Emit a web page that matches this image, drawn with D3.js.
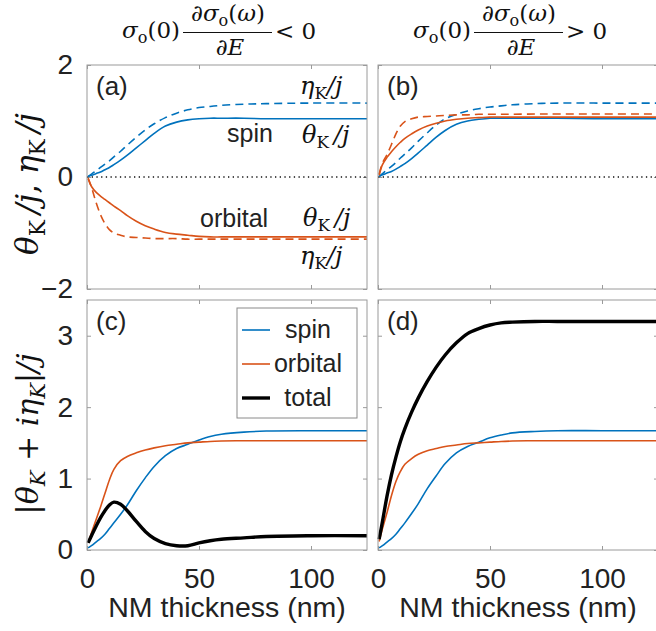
<!DOCTYPE html>
<html>
<head>
<meta charset="utf-8">
<script src="https://cdn.jsdelivr.net/npm/d3@7"></script>
<style>
  body { margin: 0; background: #fff; }
  svg { display: block; }
</style>
</head>
<body>
<svg id="chart"></svg>
<script>
// NM thickness samples (nm)
const thickness = [0.5, 2, 4, 6, 8, 10, 12, 15, 18, 22, 26, 30, 35, 40, 45, 50, 55, 60, 70, 80, 100, 125];

// (a) sigma_o(0) dsigma/dE < 0
const aSpinTheta = [0.01, 0.03, 0.06, 0.09, 0.13, 0.17, 0.22, 0.30, 0.39, 0.52, 0.65, 0.78, 0.91, 0.98, 1.02, 1.04, 1.05, 1.05, 1.05, 1.04, 1.04, 1.04];
const aSpinEta   = [0.01, 0.05, 0.11, 0.17, 0.23, 0.29, 0.36, 0.46, 0.57, 0.71, 0.84, 0.95, 1.06, 1.14, 1.20, 1.24, 1.26, 1.28, 1.30, 1.31, 1.32, 1.32];
const aOrbTheta  = [-0.03, -0.17, -0.27, -0.34, -0.40, -0.46, -0.52, -0.60, -0.69, -0.79, -0.87, -0.93, -0.99, -1.02, -1.04, -1.06, -1.07, -1.07, -1.07, -1.07, -1.07, -1.07];
const aOrbEta    = [-0.02, -0.18, -0.45, -0.67, -0.83, -0.94, -1.00, -1.04, -1.07, -1.08, -1.09, -1.10, -1.10, -1.10, -1.11, -1.11, -1.11, -1.11, -1.11, -1.11, -1.11, -1.11];

// (b) sigma_o(0) dsigma/dE > 0
const bSpinTheta = [0.01, 0.04, 0.07, 0.10, 0.14, 0.19, 0.24, 0.33, 0.43, 0.57, 0.71, 0.83, 0.94, 1.00, 1.03, 1.05, 1.05, 1.05, 1.05, 1.05, 1.04, 1.04];
const bSpinEta   = [0.01, 0.06, 0.13, 0.19, 0.26, 0.34, 0.41, 0.52, 0.64, 0.79, 0.93, 1.04, 1.12, 1.18, 1.22, 1.25, 1.27, 1.29, 1.31, 1.32, 1.32, 1.32];
const bOrbTheta  = [0.03, 0.22, 0.35, 0.45, 0.54, 0.62, 0.69, 0.77, 0.84, 0.91, 0.96, 1.00, 1.03, 1.05, 1.06, 1.07, 1.07, 1.07, 1.07, 1.07, 1.07, 1.07];
const bOrbEta    = [0.05, 0.25, 0.40, 0.58, 0.77, 0.91, 0.99, 1.04, 1.07, 1.08, 1.09, 1.10, 1.11, 1.11, 1.12, 1.12, 1.12, 1.12, 1.125, 1.125, 1.125, 1.125];

// (c) |theta + i eta| / j, case < 0
const cSpin    = [0.03, 0.06, 0.11, 0.16, 0.22, 0.30, 0.38, 0.50, 0.63, 0.83, 1.01, 1.17, 1.32, 1.42, 1.48, 1.54, 1.59, 1.62, 1.65, 1.665, 1.67, 1.67];
const cOrbital = [0.10, 0.24, 0.42, 0.60, 0.79, 0.98, 1.13, 1.25, 1.31, 1.36, 1.40, 1.43, 1.46, 1.48, 1.50, 1.51, 1.52, 1.525, 1.53, 1.53, 1.53, 1.53];
const cTotal   = [0.10, 0.20, 0.33, 0.45, 0.55, 0.63, 0.67, 0.64, 0.55, 0.40, 0.26, 0.16, 0.09, 0.06, 0.06, 0.10, 0.13, 0.15, 0.17, 0.19, 0.20, 0.20];

// (d) |theta + i eta| / j, case > 0
const dSpin    = [0.03, 0.06, 0.11, 0.16, 0.22, 0.30, 0.38, 0.51, 0.65, 0.86, 1.04, 1.21, 1.36, 1.45, 1.51, 1.57, 1.61, 1.64, 1.66, 1.67, 1.67, 1.67];
const dOrbital = [0.12, 0.30, 0.52, 0.76, 0.96, 1.10, 1.20, 1.28, 1.34, 1.39, 1.42, 1.45, 1.47, 1.49, 1.50, 1.51, 1.52, 1.525, 1.53, 1.53, 1.53, 1.53];
const dTotal   = [0.15, 0.40, 0.75, 1.05, 1.30, 1.52, 1.70, 1.93, 2.13, 2.36, 2.56, 2.73, 2.90, 3.03, 3.10, 3.15, 3.18, 3.19, 3.20, 3.20, 3.20, 3.20];

const xTicks = [0, 50, 100];
const topYTicks = [-2, 0, 2];
const bottomYTicks = [0, 1, 2, 3];
const legendLabels = ["spin", "orbital", "total"];

const width = 656, height = 631;
const blue = "#0072BD", orange = "#D95319", black = "#000000";
const boxColor = "#9a9a9a";
const textColor = "#222";
const sans = "'Liberation Sans', Arial, Helvetica, sans-serif";
const serif = "'DejaVu Serif', 'Liberation Serif', serif";

const svg = d3.select("#chart").attr("width", width).attr("height", height);

const panelW = 280;
const cols = [87, 378];
const rowTop = {y: 65, h: 224, domain: [-2, 2], ticks: topYTicks};
const rowBottom = {y: 300, h: 250, domain: [0, 3.5], ticks: bottomYTicks};

function drawPanel(opt) {
    const g = svg.append("g").attr("transform", `translate(${opt.left}, ${opt.row.y})`);
    const x = d3.scaleLinear().domain([0, 125]).range([0, panelW]);
    const y = d3.scaleLinear().domain(opt.row.domain).range([opt.row.h, 0]);

    // ticks on all four sides, pointing inward
    g.append("g").attr("transform", `translate(0, ${opt.row.h})`)
        .call(d3.axisBottom(x).tickValues(xTicks).tickSizeInner(-4).tickSizeOuter(0).tickPadding(18)
            .tickFormat(opt.xLabels ? d3.format("d") : ""));
    g.append("g").call(d3.axisTop(x).tickValues(xTicks).tickSizeInner(-4).tickSizeOuter(0).tickFormat(""));
    g.append("g").call(d3.axisLeft(y).tickValues(opt.row.ticks).tickSizeInner(-4).tickSizeOuter(0).tickPadding(14)
        .tickFormat(opt.yLabels ? d3.format("d") : ""));
    g.append("g").attr("transform", `translate(${panelW}, 0)`)
        .call(d3.axisRight(y).tickValues(opt.row.ticks).tickSizeInner(-4).tickSizeOuter(0).tickFormat(""));

    g.selectAll(".domain").remove();
    g.selectAll(".tick line").attr("stroke", boxColor);
    g.selectAll(".tick text")
        .style("font-family", sans)
        .style("font-size", "28px")
        .attr("fill", textColor);

    if (opt.zeroLine) {
        g.append("line")
            .attr("x1", 0).attr("x2", panelW)
            .attr("y1", y(0)).attr("y2", y(0))
            .attr("stroke", "#111")
            .attr("stroke-width", 1.3)
            .attr("stroke-dasharray", "1.3,3.4");
    }

    const line = d3.line()
        .x((d, i) => x(thickness[i]))
        .y(d => y(d))
        .curve(d3.curveCatmullRom.alpha(0.5));

    opt.series.forEach(s => {
        g.append("path")
            .datum(s.values)
            .attr("d", line)
            .attr("fill", "none")
            .attr("stroke", s.color)
            .attr("stroke-width", s.width || 1.6)
            .attr("stroke-dasharray", s.dash || null);
    });

    g.append("rect")
        .attr("x", 0).attr("y", 0)
        .attr("width", panelW).attr("height", opt.row.h)
        .attr("fill", "none")
        .attr("stroke", boxColor)
        .attr("stroke-width", 1);

    g.append("text")
        .attr("x", 9).attr("y", 30)
        .style("font-family", sans)
        .style("font-size", "26px")
        .attr("fill", textColor)
        .text(`(${opt.label})`);

    if (opt.xLabels) {
        g.append("text")
            .attr("x", panelW / 2).attr("y", opt.row.h + 67)
            .attr("text-anchor", "middle")
            .style("font-family", sans)
            .style("font-size", "28.5px")
            .attr("fill", textColor)
            .text("NM thickness (nm)");
    }
    return {g, x, y};
}

const dash = "8,5";

const pa = drawPanel({
    left: cols[0], row: rowTop, label: "a", yLabels: true, xLabels: false, zeroLine: true,
    series: [
        {values: aSpinEta, color: blue, dash},
        {values: aSpinTheta, color: blue},
        {values: aOrbEta, color: orange, dash},
        {values: aOrbTheta, color: orange}
    ]
});
drawPanel({
    left: cols[1], row: rowTop, label: "b", yLabels: false, xLabels: false, zeroLine: true,
    series: [
        {values: bSpinEta, color: blue, dash},
        {values: bSpinTheta, color: blue},
        {values: bOrbEta, color: orange, dash},
        {values: bOrbTheta, color: orange}
    ]
});
const pc = drawPanel({
    left: cols[0], row: rowBottom, label: "c", yLabels: true, xLabels: true,
    series: [
        {values: cSpin, color: blue},
        {values: cOrbital, color: orange},
        {values: cTotal, color: black, width: 3.4}
    ]
});
drawPanel({
    left: cols[1], row: rowBottom, label: "d", yLabels: false, xLabels: true,
    series: [
        {values: dSpin, color: blue},
        {values: dOrbital, color: orange},
        {values: dTotal, color: black, width: 3.4}
    ]
});

// math helpers
function mathText(g, x, y, size, parts, anchor) {
    const t = g.append("text")
        .attr("x", x).attr("y", y)
        .attr("text-anchor", anchor || "start")
        .style("font-family", serif)
        .style("font-size", size + "px")
        .attr("fill", "#111");
    let shift = 0;
    parts.forEach(p => {
        const sp = t.append("tspan").text(p.t);
        const target = p.sub ? size * 0.22 : 0;
        if (target !== shift) { sp.attr("dy", target - shift); shift = target; }
        if (p.sub) sp.style("font-size", (size * 0.7) + "px");
        if (p.it) sp.style("font-style", "italic");
    });
    return t;
}

// annotations in panel (a)
const ga = pa.g;
const etaK = [{t: "η", it: true}, {t: "K", sub: true}, {t: "/", it: true}, {t: "j", it: true}];
const thetaK = [{t: "θ", it: true}, {t: "K", sub: true}, {t: "\u2009/", it: true}, {t: "j", it: true}];
mathText(ga, 213, 29, 24, etaK);
mathText(ga, 215, 78, 24, thetaK);
mathText(ga, 216, 161, 24, thetaK);
mathText(ga, 213, 199, 24, etaK);
ga.append("text").attr("x", 140).attr("y", 77)
    .style("font-family", sans).style("font-size", "25px").attr("fill", textColor).text("spin");
ga.append("text").attr("x", 113).attr("y", 162)
    .style("font-family", sans).style("font-size", "25px").attr("fill", textColor).text("orbital");

// legend in panel (c)
const lg = pc.g.append("g").attr("transform", "translate(150, 8)");
lg.append("rect").attr("width", 120).attr("height", 110)
    .attr("fill", "#fff").attr("stroke", "#8a8a8a").attr("stroke-width", 1);
const legendColors = [blue, orange, black];
const legendWidths = [1.6, 1.6, 3.4];
legendLabels.forEach((name, i) => {
    const yy = 22 + i * 34;
    lg.append("line").attr("x1", 5).attr("x2", 33).attr("y1", yy).attr("y2", yy)
        .attr("stroke", legendColors[i]).attr("stroke-width", legendWidths[i]);
    lg.append("text").attr("x", 71).attr("y", yy + 8).attr("text-anchor", "middle")
        .style("font-family", sans).style("font-size", "25px").attr("fill", textColor).text(name);
});

// y-axis labels
const yl1 = svg.append("g").attr("transform", "translate(38, 184) rotate(-90)");
mathText(yl1, 0, 0, 31, [
    {t: "θ", it: true}, {t: "K", sub: true}, {t: "\u2009/", it: true}, {t: "j", it: true}, {t: ", ", it: false},
    {t: "η", it: true}, {t: "K", sub: true}, {t: "\u2009/", it: true}, {t: "j", it: true}
], "middle");
const yl2 = svg.append("g").attr("transform", "translate(38, 434) rotate(-90)");
mathText(yl2, 0, 0, 30, [
    {t: "|θ", it: true}, {t: "K", sub: true, it: true}, {t: " + ", it: false}, {t: "iη", it: true},
    {t: "K", sub: true, it: true}, {t: "|/", it: true}, {t: "j", it: true}
], "middle");

// column titles
function drawTitle(x0, rel) {
    const g = svg.append("g").attr("transform", `translate(${x0}, 0)`);
    mathText(g, 0, 38, 23, [{t: "σ", it: true}, {t: "o", sub: true}, {t: "(0)"}]);
    mathText(g, 106, 21, 23, [{t: "∂"}, {t: "σ", it: true}, {t: "o", sub: true}, {t: "("}, {t: "ω", it: true}, {t: ")"}], "middle");
    g.append("line").attr("x1", 61).attr("x2", 150).attr("y1", 32.5).attr("y2", 32.5)
        .attr("stroke", "#111").attr("stroke-width", 1.2);
    mathText(g, 108, 55, 23, [{t: "∂"}, {t: "E", it: true}], "middle");
    mathText(g, 153, 39, 23, [{t: rel + " 0"}]);
}
drawTitle(122, "<");
drawTitle(413, ">");
</script>
</body>
</html>
